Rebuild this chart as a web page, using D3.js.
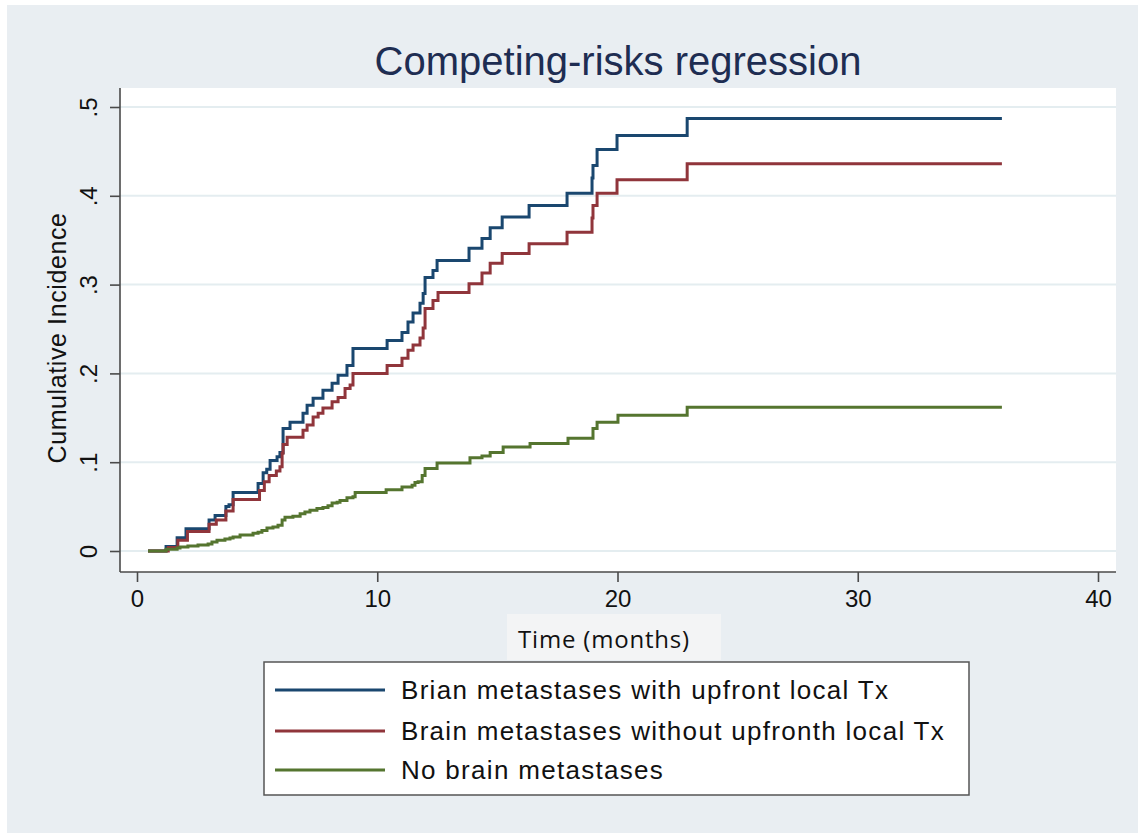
<!DOCTYPE html>
<html>
<head>
<meta charset="utf-8">
<script src="https://cdn.jsdelivr.net/npm/d3@7"></script>
<style>
  html, body { margin: 0; padding: 0; background: #fff; }
  svg { display: block; }
  .tick text { font-family: "Liberation Sans", Arial, sans-serif; fill: #111; }
</style>
</head>
<body>
<svg id="chart" width="1138" height="833"></svg>
<script>
"use strict";

// step points (time in months, cumulative incidence)
const upfrontTimes = [0.46, 1.21, 1.67, 2.04, 3.0, 3.25, 3.7, 3.83, 4.0, 5.04, 5.25, 5.4, 5.54, 5.83, 5.95, 6.08, 6.37, 6.91, 7.08, 7.33, 7.74, 8.12, 8.37, 8.74, 8.99, 10.41, 11.03, 11.28, 11.49, 11.78, 11.91, 11.99, 12.32, 12.49, 13.82, 14.36, 14.70, 15.20, 16.32, 17.90, 18.94, 18.98, 19.15, 19.98, 22.90, 36];
const upfrontValues = [0, 0.005, 0.015, 0.025, 0.035, 0.04, 0.05, 0.052, 0.066, 0.076, 0.088, 0.092, 0.102, 0.106, 0.111, 0.138, 0.145, 0.155, 0.164, 0.172, 0.181, 0.189, 0.198, 0.209, 0.228, 0.237, 0.246, 0.258, 0.268, 0.279, 0.29, 0.308, 0.316, 0.327, 0.341, 0.352, 0.364, 0.376, 0.389, 0.403, 0.420, 0.434, 0.452, 0.468, 0.487, 0.487];

const noUpfrontTimes = [0.46, 1.3, 1.7, 2.1, 3.0, 3.3, 3.7, 4.0, 5.1, 5.3, 5.5, 5.8, 5.95, 6.04, 6.08, 6.25, 6.91, 7.08, 7.33, 7.54, 7.74, 8.12, 8.37, 8.66, 8.87, 8.99, 10.41, 11.03, 11.28, 11.49, 11.78, 11.91, 11.99, 12.32, 12.53, 13.82, 14.36, 14.70, 15.20, 16.32, 17.90, 18.94, 18.98, 19.15, 19.98, 22.90, 36];
const noUpfrontValues = [0, 0.004, 0.012, 0.022, 0.03, 0.035, 0.045, 0.058, 0.068, 0.078, 0.085, 0.09, 0.095, 0.11, 0.12, 0.128, 0.136, 0.142, 0.151, 0.155, 0.161, 0.168, 0.173, 0.183, 0.187, 0.200, 0.209, 0.217, 0.226, 0.232, 0.240, 0.251, 0.273, 0.282, 0.291, 0.301, 0.313, 0.324, 0.335, 0.346, 0.359, 0.375, 0.389, 0.403, 0.418, 0.436, 0.436];

const noBrainTimes = [0.46, 1.21, 1.67, 1.79, 2.12, 2.54, 2.96, 3.12, 3.33, 3.66, 3.87, 4.0, 4.29, 4.83, 5.04, 5.20, 5.41, 5.66, 5.87, 6.04, 6.16, 6.49, 6.79, 6.99, 7.20, 7.49, 7.74, 7.95, 8.12, 8.33, 8.45, 8.74, 8.99, 9.08, 10.37, 11.03, 11.45, 11.57, 11.70, 11.87, 11.99, 12.49, 13.86, 14.36, 14.70, 15.24, 16.36, 17.94, 18.98, 19.15, 20.02, 22.90, 36];
const noBrainValues = [0, 0.002, 0.0034, 0.0045, 0.0056, 0.0067, 0.0079, 0.010, 0.012, 0.0135, 0.0146, 0.0157, 0.018, 0.020, 0.021, 0.023, 0.026, 0.027, 0.029, 0.035, 0.038, 0.039, 0.042, 0.044, 0.046, 0.048, 0.049, 0.051, 0.054, 0.055, 0.057, 0.060, 0.061, 0.066, 0.069, 0.072, 0.074, 0.077, 0.078, 0.085, 0.093, 0.099, 0.105, 0.107, 0.111, 0.117, 0.121, 0.127, 0.138, 0.145, 0.153, 0.162, 0.162];

const seriesNames = ["Brian metastases with upfront local Tx", "Brain metastases without upfronth local Tx", "No brain metastases"];
const seriesColors = ["#1a476f", "#90353b", "#55752f"];
const xTicks = [0, 10, 20, 30, 40];
const yTicks = [0, 0.1, 0.2, 0.3, 0.4, 0.5];
const yTickLabels = ["0", ".1", ".2", ".3", ".4", ".5"];

const series = [
    {name: seriesNames[0], color: seriesColors[0], t: upfrontTimes, v: upfrontValues},
    {name: seriesNames[1], color: seriesColors[1], t: noUpfrontTimes, v: noUpfrontValues},
    {name: seriesNames[2], color: seriesColors[2], t: noBrainTimes, v: noBrainValues},
];

const svg = d3.select("#chart");
const font = '"Liberation Sans", Arial, sans-serif';

// outer graph region
svg.append("rect").attr("x", 7).attr("y", 5).attr("width", 1131).attr("height", 828).attr("fill", "#e9eef2");

// plot region
const plot = {left: 120, right: 1116, top: 88, bottom: 572};
svg.append("rect")
    .attr("x", plot.left).attr("y", plot.top)
    .attr("width", plot.right - plot.left).attr("height", plot.bottom - plot.top)
    .attr("fill", "#fff");

const x = d3.scaleLinear().domain([0, 40]).range([137, 1098]);
const y = d3.scaleLinear().domain([0, 0.5]).range([551, 107]);

// grid lines
svg.append("g")
    .selectAll("line")
    .data(yTicks)
    .join("line")
    .attr("x1", plot.left).attr("x2", plot.right)
    .attr("y1", d => y(d)).attr("y2", d => y(d))
    .attr("stroke", "#e4edf0").attr("stroke-width", 2);

// title
svg.append("text")
    .attr("x", 618).attr("y", 75)
    .attr("text-anchor", "middle")
    .attr("font-family", font).attr("font-size", 40)
    .attr("fill", "#1e2d52")
    .text("Competing-risks regression");

// y axis
const yAxis = svg.append("g")
    .attr("transform", `translate(${plot.left},0)`)
    .call(d3.axisLeft(y).tickValues(yTicks).tickSize(10).tickSizeOuter(0)
        .tickFormat((d, i) => yTickLabels[i]));
yAxis.select(".domain").attr("d", `M0,${plot.top}V${plot.bottom}`);
yAxis.selectAll(".tick text")
    .attr("transform", "rotate(-90)")
    .attr("x", 0).attr("y", -23).attr("dy", null)
    .attr("text-anchor", "middle")
    .attr("font-size", 24);

// x axis
const xAxis = svg.append("g")
    .attr("transform", `translate(0,${plot.bottom})`)
    .call(d3.axisBottom(x).tickValues(xTicks).tickSize(10).tickSizeOuter(0));
xAxis.select(".domain").attr("d", `M${plot.left},0H${plot.right}`);
xAxis.selectAll(".tick text").attr("y", 18).attr("font-size", 24);

svg.selectAll(".domain, .tick line").attr("stroke", "#4a4a4a").attr("stroke-width", 1.6);

// axis titles
svg.append("text")
    .attr("transform", "translate(66,338) rotate(-90)")
    .attr("text-anchor", "middle")
    .attr("font-family", font).attr("font-size", 25)
    .attr("letter-spacing", 0.6)
    .attr("fill", "#111")
    .text("Cumulative Incidence");

svg.append("rect").attr("x", 507).attr("y", 614).attr("width", 214).attr("height", 46).attr("fill", "#f3f4f5");
svg.append("text")
    .attr("x", 604).attr("y", 648)
    .attr("text-anchor", "middle")
    .attr("font-family", '"Open Sans", sans-serif').attr("font-size", 24)
    .attr("letter-spacing", 0.8)
    .attr("fill", "#111")
    .text("Time (months)");

// curves
const line = d3.line()
    .x(d => x(d[0]))
    .y(d => y(d[1]))
    .curve(d3.curveStepAfter);

svg.append("g")
    .selectAll("path")
    .data(series)
    .join("path")
    .attr("d", s => line(s.t.map((t, i) => [t, s.v[i]])))
    .attr("fill", "none")
    .attr("stroke", s => s.color)
    .attr("stroke-width", 3);

// legend
const legend = svg.append("g").attr("transform", "translate(264,662)");
legend.append("rect")
    .attr("width", 705).attr("height", 133)
    .attr("fill", "#fff").attr("stroke", "#555").attr("stroke-width", 1.5);
const items = legend.selectAll("g.item")
    .data(series)
    .join("g")
    .attr("class", "item")
    .attr("transform", (d, i) => `translate(0,${[28, 69, 108][i]})`);
items.append("line")
    .attr("x1", 11).attr("x2", 121)
    .attr("stroke", d => d.color).attr("stroke-width", 3);
items.append("text")
    .attr("x", 137).attr("y", 9)
    .attr("font-family", font).attr("font-size", 26)
    .attr("letter-spacing", 1.3)
    .attr("fill", "#111")
    .text(d => d.name);
</script>
</body>
</html>
